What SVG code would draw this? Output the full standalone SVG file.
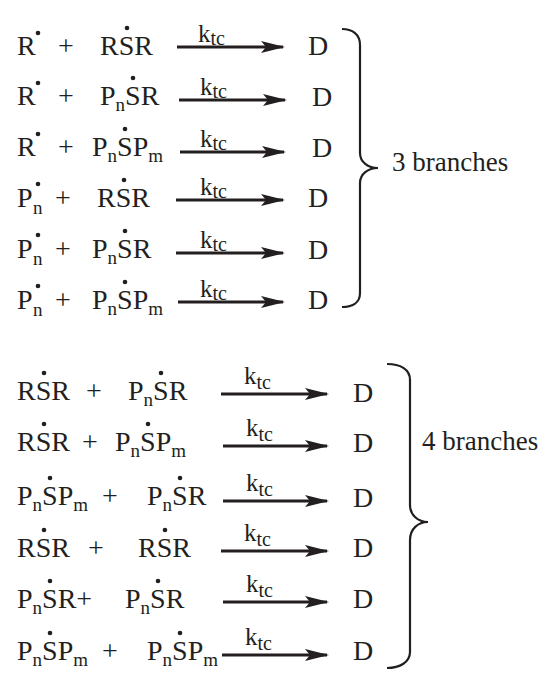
<svg xmlns="http://www.w3.org/2000/svg" width="551" height="673" viewBox="0 0 551 673">
<style>
text{font-family:"Liberation Serif","Times New Roman",serif;fill:#231f20;font-size:28px}
.s{font-size:19px}
.k{font-size:25px}
.kt{font-size:20px}
.br{font-size:27px}
.arr{stroke:#231f20;stroke-width:3;fill:none}
.brace{stroke:#231f20;stroke-width:2.2;fill:none}
</style>
<defs>
<marker id="ah" markerUnits="userSpaceOnUse" markerWidth="24" markerHeight="14" refX="22" refY="7" orient="auto">
<path d="M0,1 L24,7 L0,13 L5,7 z" fill="#231f20"/>
</marker>
<circle id="dot" r="2.3" fill="#231f20"/>
</defs>
<rect width="551" height="673" fill="#fff"/>

<g id="top">
<g id="r1">
<text x="17" y="55">R</text><use href="#dot" x="38" y="33"/>
<text x="58" y="55">+</text>
<text x="100" y="55">RSR</text><use href="#dot" x="127" y="28"/>
<text x="308" y="55">D</text>
</g>
<g id="r2">
<text x="17" y="105">R</text><use href="#dot" x="38" y="83"/>
<text x="58" y="105">+</text>
<text x="100" y="105">P<tspan class="s" dy="6">n</tspan><tspan dy="-6">SR</tspan></text><use href="#dot" x="133" y="78"/>
<text x="312" y="106">D</text>
</g>
<g id="r3">
<text x="17" y="156">R</text><use href="#dot" x="38" y="134"/>
<text x="58" y="156">+</text>
<text x="92" y="156">P<tspan class="s" dy="6">n</tspan><tspan dy="-6">SP</tspan><tspan class="s" dy="6">m</tspan></text><use href="#dot" x="125" y="129"/>
<text x="312" y="157">D</text>
</g>
<g id="r4">
<text x="17" y="207">P<tspan class="s" x="33" dy="7">n</tspan></text><use href="#dot" x="38" y="184"/>
<text x="55" y="207">+</text>
<text x="97" y="207">RSR</text><use href="#dot" x="124" y="180"/>
<text x="308" y="207">D</text>
</g>
<g id="r5">
<text x="17" y="258">P<tspan class="s" x="33" dy="7">n</tspan></text><use href="#dot" x="38" y="235"/>
<text x="55" y="258">+</text>
<text x="92" y="258">P<tspan class="s" dy="6">n</tspan><tspan dy="-6">SR</tspan></text><use href="#dot" x="125" y="231"/>
<text x="308" y="259">D</text>
</g>
<g id="r6">
<text x="17" y="309">P<tspan class="s" x="33" dy="7">n</tspan></text><use href="#dot" x="38" y="286"/>
<text x="55" y="309">+</text>
<text x="92" y="309">P<tspan class="s" dy="6">n</tspan><tspan dy="-6">SP</tspan><tspan class="s" dy="6">m</tspan></text><use href="#dot" x="125" y="282"/>
<text x="308" y="309">D</text>
</g>
</g>

<g id="bottom">
<g id="b1">
<text x="17" y="400">RSR</text><use href="#dot" x="44" y="373"/>
<text x="86" y="400">+</text>
<text x="128" y="400">P<tspan class="s" dy="6">n</tspan><tspan dy="-6">SR</tspan></text><use href="#dot" x="161" y="373"/>
<text x="353" y="402">D</text>
</g>
<g id="b2">
<text x="17" y="451">RSR</text><use href="#dot" x="44" y="424"/>
<text x="82" y="451">+</text>
<text x="115" y="451">P<tspan class="s" dy="6">n</tspan><tspan dy="-6">SP</tspan><tspan class="s" dy="6">m</tspan></text><use href="#dot" x="148" y="424"/>
<text x="353" y="452">D</text>
</g>
<g id="b3">
<text x="17" y="505">P<tspan class="s" dy="6">n</tspan><tspan dy="-6">SP</tspan><tspan class="s" dy="6">m</tspan></text><use href="#dot" x="50" y="478"/>
<text x="102" y="505">+</text>
<text x="147" y="505">P<tspan class="s" dy="6">n</tspan><tspan dy="-6">SR</tspan></text><use href="#dot" x="180" y="478"/>
<text x="353" y="507">D</text>
</g>
<g id="b4">
<text x="17" y="557">RSR</text><use href="#dot" x="44" y="530"/>
<text x="88" y="557">+</text>
<text x="138" y="557">RSR</text><use href="#dot" x="165" y="530"/>
<text x="353" y="557">D</text>
</g>
<g id="b5">
<text x="17" y="608">P<tspan class="s" dy="6">n</tspan><tspan dy="-6">SR+</tspan></text><use href="#dot" x="50" y="581"/>
<text x="125" y="608">P<tspan class="s" dy="6">n</tspan><tspan dy="-6">SR</tspan></text><use href="#dot" x="158" y="581"/>
<text x="353" y="608">D</text>
</g>
<g id="b6">
<text x="17" y="660">P<tspan class="s" dy="6">n</tspan><tspan dy="-6">SP</tspan><tspan class="s" dy="6">m</tspan></text><use href="#dot" x="50" y="633"/>
<text x="102" y="660">+</text>
<text x="147" y="660">P<tspan class="s" dy="6">n</tspan><tspan dy="-6">SP</tspan><tspan class="s" dy="6">m</tspan></text><use href="#dot" x="180" y="633"/>
<text x="353" y="660">D</text>
</g>
</g>

<g id="connectors">
<line class="arr" x1="177" y1="47" x2="283" y2="47" marker-end="url(#ah)"/>
<line class="arr" x1="179" y1="100" x2="285" y2="100" marker-end="url(#ah)"/>
<line class="arr" x1="180" y1="152" x2="284" y2="152" marker-end="url(#ah)"/>
<line class="arr" x1="176" y1="200" x2="283" y2="200" marker-end="url(#ah)"/>
<line class="arr" x1="176" y1="253" x2="283" y2="253" marker-end="url(#ah)"/>
<line class="arr" x1="178" y1="302" x2="283" y2="302" marker-end="url(#ah)"/>
<line class="arr" x1="221" y1="394" x2="327" y2="394" marker-end="url(#ah)"/>
<line class="arr" x1="223" y1="446" x2="327" y2="446" marker-end="url(#ah)"/>
<line class="arr" x1="223" y1="501" x2="327" y2="501" marker-end="url(#ah)"/>
<line class="arr" x1="221" y1="551" x2="327" y2="551" marker-end="url(#ah)"/>
<line class="arr" x1="223" y1="602" x2="327" y2="602" marker-end="url(#ah)"/>
<line class="arr" x1="222" y1="655" x2="327" y2="655" marker-end="url(#ah)"/>
<text class="k" x="198" y="42">k<tspan class="kt" dy="3">tc</tspan></text>
<text class="k" x="200" y="95">k<tspan class="kt" dy="3">tc</tspan></text>
<text class="k" x="200" y="147">k<tspan class="kt" dy="3">tc</tspan></text>
<text class="k" x="200" y="195">k<tspan class="kt" dy="3">tc</tspan></text>
<text class="k" x="200" y="248">k<tspan class="kt" dy="3">tc</tspan></text>
<text class="k" x="200" y="297">k<tspan class="kt" dy="3">tc</tspan></text>
<text class="k" x="244" y="384">k<tspan class="kt" dy="5">tc</tspan></text>
<text class="k" x="246" y="436">k<tspan class="kt" dy="5">tc</tspan></text>
<text class="k" x="246" y="491">k<tspan class="kt" dy="5">tc</tspan></text>
<text class="k" x="244" y="541">k<tspan class="kt" dy="5">tc</tspan></text>
<text class="k" x="246" y="592">k<tspan class="kt" dy="5">tc</tspan></text>
<text class="k" x="245" y="645">k<tspan class="kt" dy="5">tc</tspan></text>
</g>

<g id="brace-top">
<path class="brace" d="M342,29 C352,29 360,34 360,45 L360,153 C360,162 368,168 378,168 C368,168 360,174 360,183 L360,293 C360,303 352,307 342,307"/>
<text class="br" x="392" y="171">3 branches</text>
</g>
<g id="brace-bottom">
<path class="brace" d="M387,364 C400,364 410,369 410,380 L410,505 C410,515 418,522 428,522 C418,522 410,529 410,540 L410,652 C410,662 400,668 387,668"/>
<text class="br" x="422" y="450">4 branches</text>
</g>
</svg>
